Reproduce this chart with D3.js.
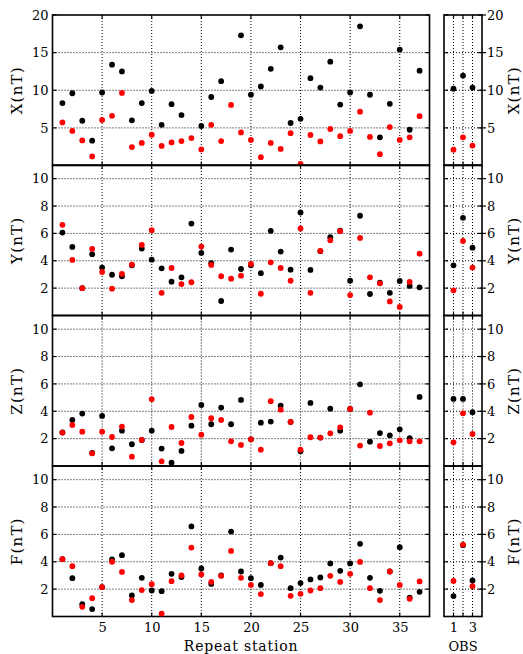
<!DOCTYPE html>
<html><head><meta charset="utf-8">
<script src="https://cdn.jsdelivr.net/npm/d3@7"></script>
<style>
html,body{margin:0;padding:0;background:#fff;}
svg{display:block;}
text{font-family:"DejaVu Serif",serif;fill:#000;}
</style></head>
<body>
<script>
// ---- data ----
const stations = [1,2,3,4,5,6,7,8,9,10,11,12,13,14,15,16,17,18,19,20,21,22,23,24,25,26,27,28,29,30,31,32,33,34,35,36,37];
const obsStations = [1,2,3];
const xTicksMain = [5,10,15,20,25,30,35];
const xTicksObs = [1,2,3];
const xTickLabelsObs = ["1","","3"];
const yTicksX = [5,10,15,20];
const yTicksOther = [2,4,6,8,10];
const panelNames = ["X(nT)","Y(nT)","Z(nT)","F(nT)"];

const X_black = [8.3,9.6,5.95,3.3,9.7,13.4,12.5,6.0,8.3,9.9,5.4,8.15,6.7,null,5.25,9.1,11.2,null,17.3,9.4,10.5,12.85,15.7,5.65,6.2,11.6,10.35,13.8,8.1,9.7,18.5,9.4,3.75,8.2,15.4,4.75,12.6];
const X_red = [5.73,4.6,3.33,1.2,6.05,6.6,9.65,2.45,3.0,4.1,2.6,3.07,3.25,3.65,2.13,5.4,3.25,8.05,4.4,3.4,1.1,3.0,2.2,4.3,0.2,4.05,3.2,4.85,3.9,4.6,7.15,3.8,1.5,5.1,3.4,3.75,6.55];
const Y_black = [6.06,5.01,2.0,4.48,3.5,2.98,2.87,3.67,4.89,4.08,3.45,2.47,2.79,6.72,4.57,3.82,1.06,4.82,3.4,3.67,3.09,6.19,4.67,3.35,7.53,3.33,4.7,5.72,6.2,2.54,7.29,1.57,2.4,1.66,2.52,2.16,2.06];
const Y_red = [6.63,4.06,2.0,4.87,3.18,1.96,3.04,3.72,5.16,6.24,1.66,3.47,2.3,2.43,5.04,3.7,2.87,2.69,2.91,3.77,1.59,3.89,3.47,2.54,6.36,1.66,4.72,5.5,6.16,1.49,5.67,2.79,2.35,1.03,0.62,2.45,4.52];
const Z_black = [2.45,3.37,3.83,0.95,3.66,1.29,2.58,1.59,1.9,2.58,1.27,0.24,1.1,2.95,4.46,3.05,4.27,3.05,4.83,1.95,3.17,3.25,4.41,3.22,1.07,4.61,2.08,4.19,2.58,4.17,5.97,1.78,2.41,2.24,2.68,2.03,5.05];
const Z_red = [2.44,3.0,2.51,0.93,2.51,2.12,2.88,0.68,1.9,4.88,0.34,2.85,1.68,3.58,2.29,3.49,3.37,1.8,1.54,1.95,1.19,4.74,4.12,3.22,1.19,2.1,2.08,2.39,2.83,4.17,1.49,3.9,1.46,1.66,1.88,1.8,1.8];
const F_black = [4.19,2.8,0.9,0.54,2.15,4.17,4.48,1.54,2.83,1.9,1.85,3.12,2.88,6.58,3.51,2.38,3.0,6.21,3.29,2.8,2.31,3.9,4.31,2.07,2.44,2.71,2.85,3.88,3.34,3.88,5.31,2.83,1.88,3.29,5.07,1.37,1.8];
const F_red = [4.19,3.68,0.71,1.34,2.15,4.0,3.26,1.2,1.93,2.36,0.2,2.58,3.0,5.04,3.07,2.53,2.97,4.79,2.83,2.31,1.64,3.9,3.68,1.51,1.66,1.9,2.07,2.97,2.53,3.12,3.99,2.07,1.2,3.29,2.31,1.29,2.56];

const obsX_black = [10.2,11.95,10.35], obsX_red = [2.1,3.75,2.65];
const obsY_black = [3.67,7.14,4.96], obsY_red = [1.84,5.45,3.5];
const obsZ_black = [4.9,4.9,3.93], obsZ_red = [1.73,3.85,2.34];
const obsF_black = [1.49,5.21,2.63], obsF_red = [2.6,5.26,2.22];

// ---- layout ----
const W = 523, H = 654;
const svg = d3.select("body").append("svg").attr("width", W).attr("height", H);

const xMain = d3.scaleLinear().domain([0,38]).range([52.5,429.5]);
const xObs = d3.scaleLinear().domain([0,4]).range([444,482]);

const panelTops = [15,165,315.5,466];
const panelH = 150.5;
const panels = [
  {name:panelNames[0], dom:[0,20], ticks:yTicksX, main:[X_black,X_red], obs:[obsX_black,obsX_red]},
  {name:panelNames[1], dom:[0,11], ticks:yTicksOther, main:[Y_black,Y_red], obs:[obsY_black,obsY_red]},
  {name:panelNames[2], dom:[0,11], ticks:yTicksOther, main:[Z_black,Z_red], obs:[obsZ_black,obsZ_red]},
  {name:panelNames[3], dom:[0,11], ticks:yTicksOther, main:[F_black,F_red], obs:[obsF_black,obsF_red]}
];
const colors = ["#000000","#ff0000"];
const R = 2.9;

function drawBox(g, x, y, xTicks, yTicks, rightAxis){
  const [x0,x1] = x.range();
  const [y1,y0] = y.range();
  const grid = g.append("g");
  xTicks.forEach(t => {
    grid.append("line").attr("x1",x(t)).attr("x2",x(t)).attr("y1",y0).attr("y2",y1)
      .attr("stroke","#000").attr("stroke-width",1).attr("stroke-dasharray","1,2");
  });
  yTicks.forEach(t => {
    if (Math.abs(y(t)-y0) < 1) return;
    grid.append("line").attr("x1",x0).attr("x2",x1).attr("y1",y(t)).attr("y2",y(t))
      .attr("stroke","#000").attr("stroke-width",1).attr("stroke-dasharray","1,2");
  });
  const tk = g.append("g").attr("stroke","#000").attr("stroke-width",1.2);
  xTicks.forEach(t => {
    tk.append("line").attr("x1",x(t)).attr("x2",x(t)).attr("y1",y1).attr("y2",y1-4);
    tk.append("line").attr("x1",x(t)).attr("x2",x(t)).attr("y1",y0).attr("y2",y0+4);
  });
  yTicks.forEach(t => {
    tk.append("line").attr("x1",x0).attr("x2",x0+4).attr("y1",y(t)).attr("y2",y(t));
    tk.append("line").attr("x1",x1).attr("x2",x1-4).attr("y1",y(t)).attr("y2",y(t));
    if (rightAxis) tk.append("line").attr("x1",x1).attr("x2",x1+4).attr("y1",y(t)).attr("y2",y(t));
  });
  g.append("rect").attr("x",x0).attr("y",y0).attr("width",x1-x0).attr("height",y1-y0)
    .attr("fill","none").attr("stroke","#000").attr("stroke-width",1.6);
}

panels.forEach((p, i) => {
  const top = panelTops[i];
  const y = d3.scaleLinear().domain(p.dom).range([top+panelH, top]);
  const g = svg.append("g");
  drawBox(g, xMain, y, xTicksMain, p.ticks, false);
  drawBox(g, xObs, y, xTicksObs, p.ticks, true);

  const la = g.append("g").attr("transform",`translate(${xMain.range()[0]},0)`)
    .call(d3.axisLeft(y).tickValues(p.ticks).tickSize(0).tickPadding(4));
  la.select(".domain").remove();
  la.selectAll("text").style("font-family","DejaVu Serif").style("font-size","13px");
  const ra = g.append("g").attr("transform",`translate(${xObs.range()[1]},0)`)
    .call(d3.axisRight(y).tickValues(p.ticks).tickSize(0).tickPadding(5));
  ra.select(".domain").remove();
  ra.selectAll("text").style("font-family","DejaVu Serif").style("font-size","13px");

  const cy = top + panelH/2;
  g.append("text").attr("transform",`translate(22,${cy}) rotate(-90)`)
    .attr("text-anchor","middle").style("font-size","15px").style("letter-spacing","1.2px").text(p.name);
  g.append("text").attr("transform",`translate(519,${cy}) rotate(-90)`)
    .attr("text-anchor","middle").style("font-size","15px").style("letter-spacing","1.2px").text(p.name);

  const clipId = "clip"+i;
  svg.append("clipPath").attr("id",clipId).append("rect")
    .attr("x",0).attr("y",top).attr("width",W).attr("height",panelH);
  const pts = svg.append("g").attr("clip-path",`url(#${clipId})`);
  p.main.forEach((series, si) => {
    pts.append("g").selectAll("circle")
      .data(stations.map((s,k)=>({s, v:series[k]})).filter(d=>d.v!=null))
      .join("circle").attr("cx",d=>xMain(d.s)).attr("cy",d=>y(d.v)).attr("r",R).attr("fill",colors[si]);
  });
  p.obs.forEach((series, si) => {
    pts.append("g").selectAll("circle")
      .data(obsStations.map((s,k)=>({s, v:series[k]})))
      .join("circle").attr("cx",d=>xObs(d.s)).attr("cy",d=>y(d.v)).attr("r",R).attr("fill",colors[si]);
  });

  if (i === panels.length-1) {
    const bottom = top + panelH;
    const ba = svg.append("g").attr("transform",`translate(0,${bottom})`)
      .call(d3.axisBottom(xMain).tickValues(xTicksMain).tickSize(0).tickPadding(6));
    ba.select(".domain").remove();
    ba.selectAll("text").style("font-family","DejaVu Serif").style("font-size","13px");
    const bo = svg.append("g").attr("transform",`translate(0,${bottom})`)
      .call(d3.axisBottom(xObs).tickValues(xTicksObs).tickFormat((d,k)=>xTickLabelsObs[k]).tickSize(0).tickPadding(6));
    bo.select(".domain").remove();
    bo.selectAll("text").style("font-family","DejaVu Serif").style("font-size","13px");
    svg.append("text").attr("x",(xMain.range()[0]+xMain.range()[1])/2).attr("y",651)
      .attr("text-anchor","middle").style("font-size","14px").style("letter-spacing","0.8px").text("Repeat station");
    svg.append("text").attr("x",xObs(2)).attr("y",651)
      .attr("text-anchor","middle").style("font-size","13px").text("OBS");
  }
});
</script>
</body></html>
